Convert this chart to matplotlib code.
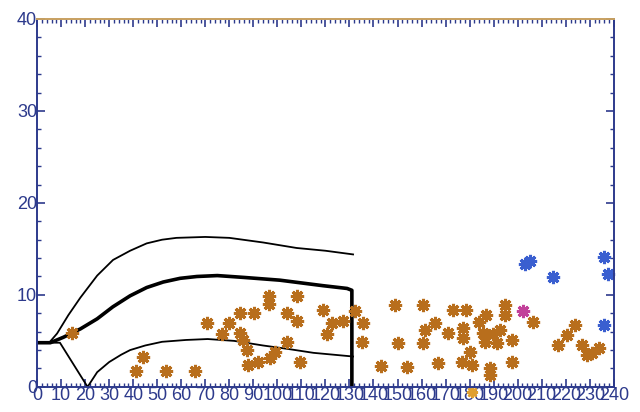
import matplotlib
matplotlib.use("Agg")
from matplotlib import pyplot as plt
from matplotlib.ticker import MultipleLocator

# envelope curves
upper_x = [0, 5, 8.3, 13, 18, 25, 31.6, 38.7, 45.6, 52, 58, 70, 80, 94, 108, 120, 131.5]
upper_y = [4.8, 4.8, 5.8, 7.8, 9.7, 12.1, 13.8, 14.8, 15.6, 16.0, 16.2, 16.3, 16.2, 15.7, 15.1, 14.8, 14.4]

mid_x = [0, 5.5, 11, 18, 25, 31.5, 38.7, 45.6, 52.5, 59.5, 66.5, 75, 86, 101, 119, 129, 131, 131]
mid_y = [4.8, 4.8, 5.4, 6.3, 7.4, 8.7, 9.9, 10.8, 11.4, 11.8, 12.0, 12.1, 11.9, 11.6, 11.0, 10.7, 10.5, 0]

lower_x = [0, 9.5, 21, 25, 30, 35, 38.7, 45, 52, 62, 71, 82, 94, 105, 115, 131.5]
lower_y = [4.8, 4.8, 0, 1.6, 2.7, 3.5, 4.0, 4.5, 4.9, 5.1, 5.2, 5.0, 4.5, 4.1, 3.7, 3.3]

# observations
orange_x = [14.6, 41, 44, 53.7, 65.7, 70.8, 77, 80, 84.4, 90.3, 84.4, 85.8, 87.4, 87.8,
            92, 97, 99, 96.5, 96.5, 104, 108, 108, 104, 109.4, 119, 122.7, 120.6, 127.3,
            132.3, 135.6, 135.2, 143, 149, 150, 154, 160.6, 160.6, 161.4, 165.6, 167,
            171, 173, 178.5, 177.3, 177.3, 176.8, 180, 181, 184, 187, 185.5, 186.4, 189.7,
            192.6, 191.3, 188.4, 188.4, 194.7, 194.7, 197.6, 197.6, 206.2, 216.7, 220.5,
            223.8, 226.7, 228.8, 231, 233.8]
orange_y = [5.9, 1.7, 3.3, 1.7, 1.7, 6.9, 5.8, 6.9, 8.0, 8.0, 5.9, 5.1, 4.0, 2.4,
            2.7, 3.1, 3.8, 9.9, 9.0, 8.0, 7.2, 9.9, 4.9, 2.7, 8.4, 6.9, 5.8, 7.2,
            8.3, 6.9, 4.9, 2.3, 8.9, 4.8, 2.2, 8.9, 4.8, 6.2, 6.9, 2.6,
            5.9, 8.4, 8.4, 6.4, 5.3, 2.7, 3.8, 2.4, 7.0, 7.8, 5.9, 4.9, 5.8,
            6.2, 4.8, 2.1, 1.3, 8.9, 7.8, 5.1, 2.7, 7.1, 4.6, 5.6,
            6.7, 4.5, 3.5, 3.7, 4.2]
blue_x = [203, 205, 214.6, 235.9, 237.5, 235.9]
blue_y = [13.4, 13.7, 11.9, 14.1, 12.3, 6.7]
pink_x = [202.4]
pink_y = [8.3]
stray_x = [181]
stray_y = [-0.6]

tick_color = "#2d3a8c"

fig = plt.figure(figsize=(6.4, 4.12), dpi=100)
ax = fig.add_axes([0.058, 0.061, 0.901, 0.893])

ax.plot(upper_x, upper_y, color="black", lw=1.3)
ax.plot(lower_x, lower_y, color="black", lw=1.3)
ax.plot(mid_x, mid_y, color="black", lw=2.6)

star = (8, 2, 0)
ax.plot(orange_x, orange_y, ls="none", marker=star, ms=9.5, mew=2.2, color="#b86e1c")
ax.plot(blue_x, blue_y, ls="none", marker=star, ms=9.5, mew=2.2, color="#3a5fd0", clip_on=False)
ax.plot(pink_x, pink_y, ls="none", marker=star, ms=9.5, mew=2.2, color="#c2409a")
ax.plot(stray_x, stray_y, ls="none", marker=star, ms=8, mew=1.8, color="#e0a030", clip_on=False)

ax.set_xlim(0, 240)
ax.set_ylim(0, 40)
ax.xaxis.set_major_locator(MultipleLocator(10))
ax.xaxis.set_minor_locator(MultipleLocator(2))
ax.yaxis.set_major_locator(MultipleLocator(10))
ax.yaxis.set_minor_locator(MultipleLocator(2))

ax.tick_params(which="both", direction="in", top=True, right=True, color=tick_color,
               labelcolor=tick_color, labelsize=13, pad=0)
ax.tick_params(which="major", length=6, width=1.2)
ax.tick_params(which="minor", length=3, width=1)
for lab in ax.get_xticklabels() + ax.get_yticklabels():
    lab.set_family("Liberation Sans")

for side in ["left", "right", "bottom"]:
    ax.spines[side].set_color(tick_color)
    ax.spines[side].set_linewidth(1.4)
ax.spines["top"].set_color("#c8a060")
ax.spines["top"].set_linewidth(1.4)

fig.savefig("out.png", dpi=100)
